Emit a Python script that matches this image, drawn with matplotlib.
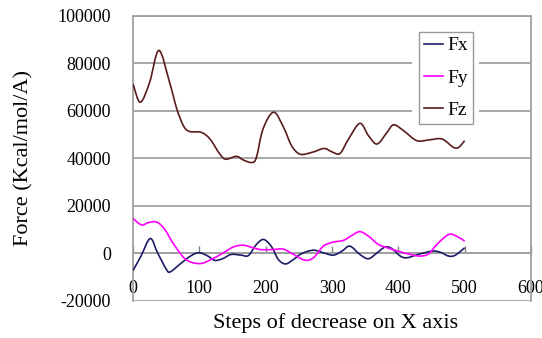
import matplotlib
matplotlib.use("Agg")
import numpy as np
import matplotlib.pyplot as plt
from matplotlib.patches import Rectangle, PathPatch
from matplotlib.path import Path
from matplotlib.lines import Line2D

plt.rcParams["font.family"] = ["Liberation Serif", "DejaVu Serif"]

# --- Data ---
fx_steps = [0, 12, 26, 37, 51, 57, 72, 88, 100, 113, 123, 135, 148, 163, 174,
            186, 197, 209, 219, 230, 242, 254, 272, 287, 302, 315, 327, 342,
            355, 368, 380, 390, 403, 413, 430, 451, 463, 476, 486, 500]
fx = [-7200, -1100, 6300, 300, -7000, -7600, -4200, -850, 300, -1100, -2900,
      -2200, -400, -700, -850, 3800, 5900, 2800, -2500, -4400, -2500, -100,
      1400, 300, -700, 1000, 3100, -400, -2200, 300, 2700, 2100, -1100, -1800,
      -400, 1000, 550, -1100, -700, 2400]

fy_steps = [0, 13, 23, 36, 48, 60, 76, 88, 103, 118, 134, 151, 166, 181, 194,
            212, 227, 242, 259, 272, 287, 302, 317, 330, 342, 355, 370, 388,
            403, 418, 433, 446, 458, 476, 489, 500]
fy = [14700, 12000, 13000, 13200, 10100, 4500, -1600, -3700, -4200, -2500,
      -100, 2700, 3500, 2400, 1600, 1700, 1800, -400, -2800, -1800, 3100, 4800,
      5500, 7600, 9200, 7300, 3800, 2000, 700, -400, -1100, -100, 3800, 8000,
      7100, 5200]

fz_steps = [0, 11, 25, 39, 55, 66, 76, 85, 103, 116, 131, 140, 156, 166, 179,
            186, 196, 212, 227, 239, 252, 270, 288, 300, 312, 325, 342, 355,
            368, 383, 393, 408, 428, 448, 466, 483, 491, 500]
fz = [71400, 63700, 72000, 85500, 72200, 60900, 53800, 51400, 51000, 48200,
      41800, 39700, 40900, 39400, 38300, 40400, 52400, 59500, 53100, 45400,
      41800, 42600, 44200, 42800, 42100, 48200, 54800, 49600, 46100, 51000,
      54200, 51700, 47500, 47900, 48200, 44700, 44700, 47500]

x_ticks = [0, 100, 200, 300, 400, 500, 600]
y_ticks = [-20000, 0, 20000, 40000, 60000, 80000, 100000]

grid_color = "#a0a0a0"
colors = {"Fx": "#1c1c66", "Fy": "#ff00ff", "Fz": "#5a1c1c"}


def smooth_path(xs, ys):
    # smoothed line through the points (like Excel's "smoothed line")
    pts = np.column_stack([xs, ys]).astype(float)
    ext = np.vstack([pts[0], pts, pts[-1]])
    verts = [pts[0]]
    codes = [Path.MOVETO]
    for i in range(len(pts) - 1):
        p0, p1, p2, p3 = ext[i], ext[i + 1], ext[i + 2], ext[i + 3]
        verts += [p1 + (p2 - p0) / 6, p2 - (p3 - p1) / 6, p2]
        codes += [Path.CURVE4] * 3
    return Path(verts, codes)


fig = plt.figure(figsize=(5.42, 3.38), dpi=100)
ax = fig.add_axes([0.2454, 0.1095, 0.7343, 0.8432])

for name, xs, ys in [("Fx", fx_steps, fx), ("Fy", fy_steps, fy),
                     ("Fz", fz_steps, fz)]:
    ax.add_patch(PathPatch(smooth_path(xs, ys), facecolor="none",
                           edgecolor=colors[name], lw=1.2, zorder=3))

ax.set_xlim(0, 600)
ax.set_ylim(-20000, 100000)
ax.set_xticks(x_ticks)
ax.set_yticks(y_ticks)
ax.set_yticklabels([str(v) for v in y_ticks])

# gridlines
ax.set_axisbelow(True)
ax.yaxis.grid(True, color=grid_color, lw=1.3)

# frame: x axis crosses at zero, no bottom border
for side in ["top", "right", "left"]:
    ax.spines[side].set_color(grid_color)
    ax.spines[side].set_linewidth(1.3)
ax.spines["bottom"].set_position(("data", 0))
ax.spines["bottom"].set_color(grid_color)
ax.spines["bottom"].set_linewidth(1.3)

ax.tick_params(axis="x", direction="in", length=5, width=1, color="#808080",
               pad=19, labelsize=13)
ax.tick_params(axis="y", length=0, pad=16, labelsize=13)

ax.set_xlabel("Steps of decrease on X axis", fontsize=16)
ax.xaxis.set_label_coords(0.51, -0.042)
ax.set_ylabel("Force (Kcal/mol/A)", fontsize=16)
ax.yaxis.set_label_coords(-0.25, 0.5)

# white gap behind the legend (gridlines stop short of it)
ax.add_patch(Rectangle((0.702, 0.617), 0.168, 0.346, transform=ax.transAxes,
                       facecolor="white", edgecolor="none", zorder=1))

handles = [Line2D([], [], color=colors[n], lw=1.2) for n in ["Fx", "Fy", "Fz"]]
leg = ax.legend(handles, ["Fx", "Fy", "Fz"], loc="upper left",
                bbox_to_anchor=(0.7186, 0.9439), fontsize=14, frameon=True,
                fancybox=False, handlelength=1.0, handletextpad=0.2,
                labelspacing=0.75, borderpad=0.25, borderaxespad=0)
leg.get_frame().set_edgecolor("#808080")
leg.get_frame().set_linewidth(1.0)

fig.savefig("out.png", dpi=100)
